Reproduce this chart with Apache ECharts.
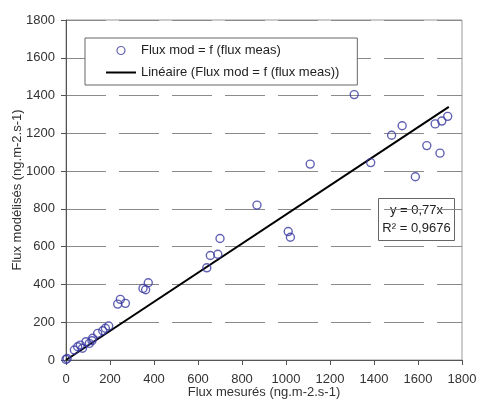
<!DOCTYPE html>
<html>
<head>
<meta charset="utf-8">
<script src="https://cdn.jsdelivr.net/npm/echarts@6/dist/echarts.min.js"></script>
<style>
  html, body { margin: 0; padding: 0; background: #fff; }
  #chart { width: 478px; height: 403px; }
</style>
</head>
<body>
<div id="chart"></div>
<script>
let fluxMeas = [0, 5, 38, 53, 65, 75, 91, 106, 118, 121, 144, 167, 179, 194, 235, 247, 270, 350, 362, 374,
                640, 656, 690, 700, 868, 1010, 1020, 1110, 1310, 1385, 1480, 1528, 1588, 1640, 1678, 1700, 1708, 1735];
let fluxMod  = [3, 8, 53, 70, 79, 62, 97, 88, 102, 115, 141, 155, 168, 180, 296, 321, 300, 379, 372, 409,
                488, 553, 560, 643, 820, 680, 650, 1037, 1405, 1045, 1190, 1240, 970, 1135, 1250, 1095, 1265, 1290];

// trend line ends
let fitX = [0, 1740];
let fitY = [0, 1340];

let pointName = 'Flux mod = f (flux meas)';
let lineName = 'Linéaire (Flux mod = f (flux meas))';
let eqLines = ['y = 0,77x', 'R² = 0,9676'];

let font = 'Liberation Sans, Arial, sans-serif';

let chart = echarts.init(document.getElementById('chart'));

let points = fluxMeas.map((x, i) => [x, fluxMod[i]]);
let fit = fitX.map((x, i) => [x, fitY[i]]);

let option = {
    animation: false,
    textStyle: { fontFamily: font },
    grid: {
        left: 66,
        right: 16,
        top: 20,
        bottom: 43,
        outerBoundsMode: 'none',
        containLabel: false,
        show: true,
        borderColor: '#999',
        borderWidth: 1
    },
    legend: {
        left: 85,
        top: 38,
        width: 260,
        orient: 'vertical',
        itemWidth: 30,
        itemHeight: 8,
        itemGap: 9,
        padding: [6, 18, 6, 20],
        borderColor: '#666',
        borderWidth: 1,
        backgroundColor: '#fff',
        textStyle: { fontSize: 13, color: '#222', fontFamily: font },
        data: [
            { name: pointName, icon: 'circle', itemStyle: { borderWidth: 1.2 } },
            { name: lineName, itemStyle: { opacity: 0 } }
        ]
    },
    xAxis: {
        type: 'value',
        min: 0,
        max: 1800,
        interval: 200,
        name: 'Flux mesurés (ng.m-2.s-1)',
        nameLocation: 'middle',
        nameGap: 26,
        nameMoveOverlap: false,
        nameTextStyle: { fontSize: 13, color: '#333', fontFamily: font },
        axisLine: { show: true, onZero: false, lineStyle: { color: '#555', width: 1 } },
        axisTick: { show: true, length: 5, lineStyle: { color: '#555' } },
        axisLabel: { fontSize: 13, color: '#333', margin: 13, formatter: v => String(v) },
        splitLine: { show: false }
    },
    yAxis: {
        type: 'value',
        min: 0,
        max: 1800,
        interval: 200,
        name: 'Flux modélisés (ng.m-2.s-1)',
        nameLocation: 'middle',
        nameGap: 42,
        nameMoveOverlap: false,
        nameTextStyle: { fontSize: 13, color: '#333', fontFamily: font },
        axisLine: { show: true, onZero: false, lineStyle: { color: '#555', width: 1 } },
        axisTick: { show: true, length: 5, lineStyle: { color: '#555' } },
        axisLabel: { fontSize: 13, color: '#333', margin: 11, formatter: v => String(v) },
        splitLine: {
            show: true,
            lineStyle: { color: '#8a8a8a', width: 1, type: [40, 13] }
        }
    },
    graphic: [
        {
            type: 'group',
            left: 378,
            top: 198,
            children: [
                {
                    type: 'rect',
                    shape: { x: 0, y: 0, width: 76, height: 42 },
                    style: { fill: '#fff', stroke: '#666', lineWidth: 1 }
                },
                {
                    type: 'text',
                    x: 38,
                    y: 5,
                    style: { text: eqLines[0], font: '13px ' + font, fill: '#222', align: 'center', verticalAlign: 'top' }
                },
                {
                    type: 'text',
                    x: 38,
                    y: 23,
                    style: { text: eqLines[1], font: '13px ' + font, fill: '#222', align: 'center', verticalAlign: 'top' }
                }
            ]
        }
    ],
    series: [
        {
            name: pointName,
            type: 'scatter',
            data: points,
            symbol: 'circle',
            symbolSize: 8,
            itemStyle: { color: 'rgba(255,255,255,0)', borderColor: '#3a3aa0', borderWidth: 1.4 },
            z: 3
        },
        {
            name: lineName,
            type: 'line',
            data: fit,
            showSymbol: false,
            symbol: 'none',
            lineStyle: { color: '#000', width: 2 },
            itemStyle: { color: '#000' },
            z: 2
        }
    ]
};

option && chart.setOption(option);
</script>
</body>
</html>
